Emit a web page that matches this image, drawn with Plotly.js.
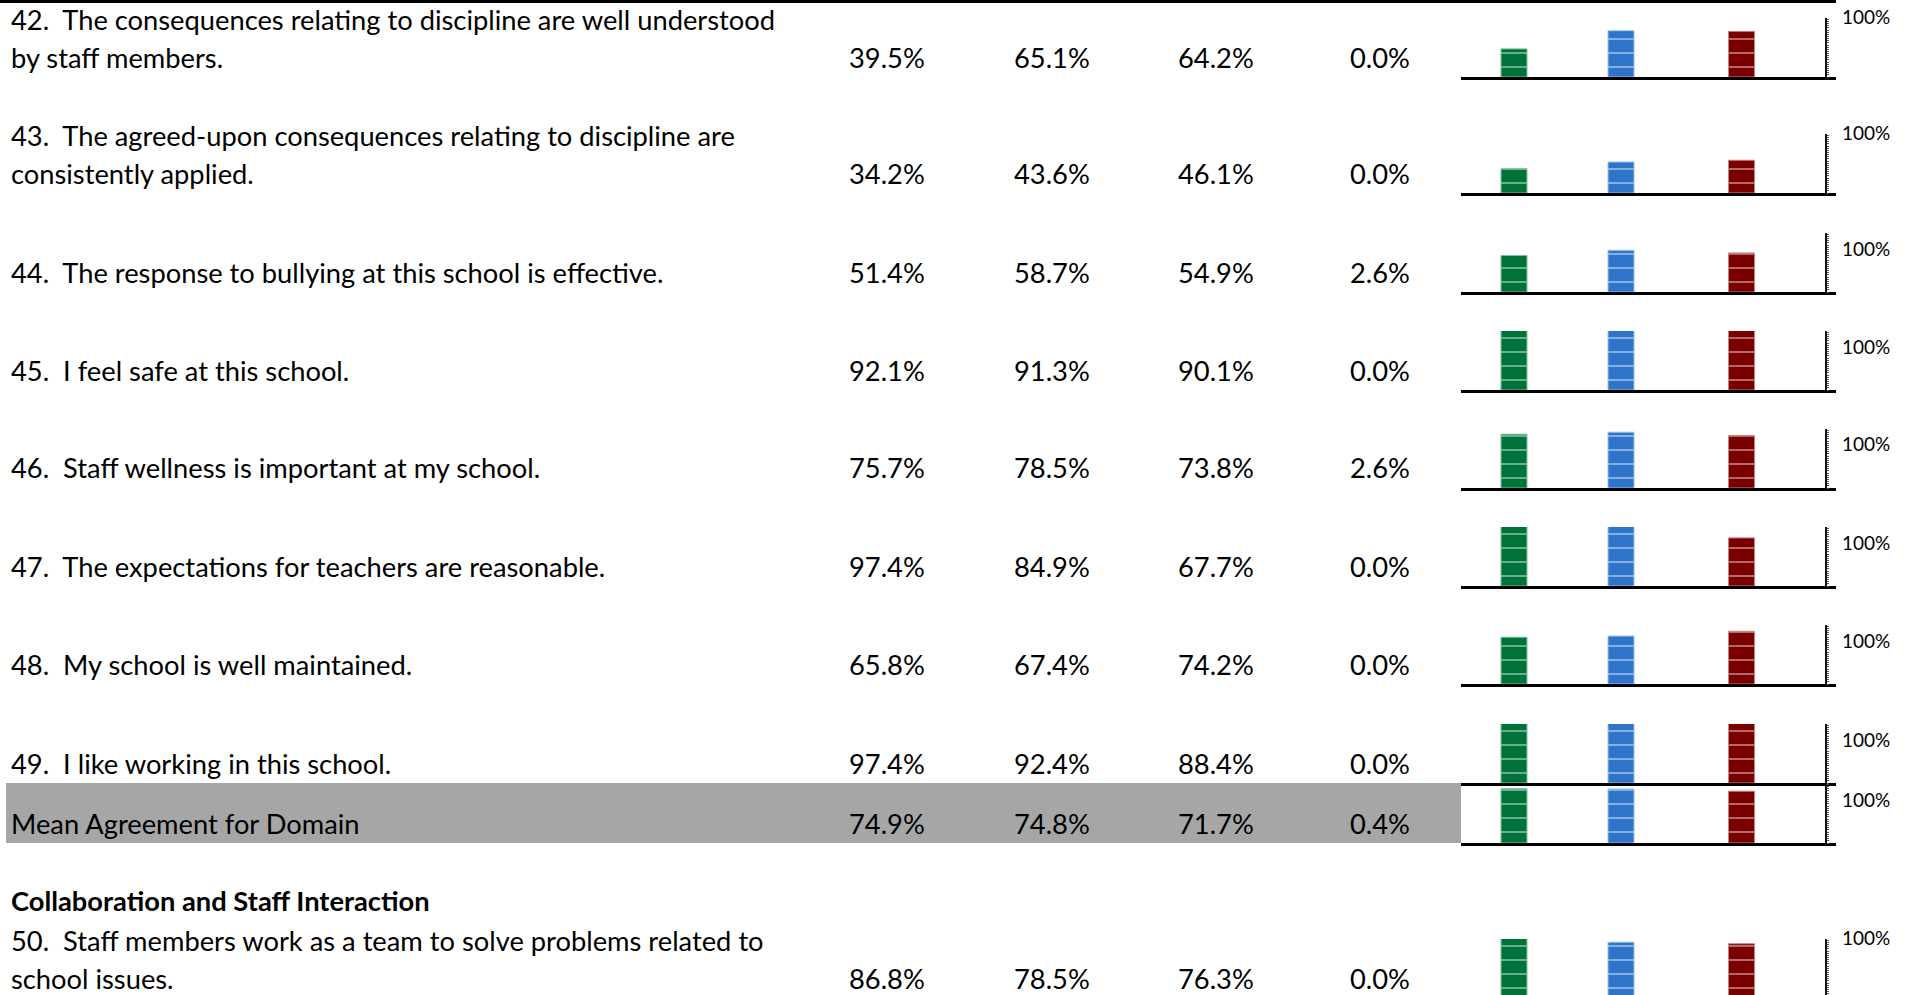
<!DOCTYPE html>
<html><head><meta charset="utf-8">
<script src="https://cdn.plot.ly/plotly-3.0.1.min.js"></script>
<style>html,body{margin:0;padding:0;overflow:hidden;background:#fff}#chart{width:1906px;height:1010px}</style>
</head><body><div id="chart"></div>
<script>
// ---------- data ----------
const questionLines = [
  ["42.  The consequences relating to discipline are well understood", "by staff members."],
  ["43.  The agreed-upon consequences relating to discipline are", "consistently applied."],
  ["44.  The response to bullying at this school is effective."],
  ["45.  I feel safe at this school."],
  ["46.  Staff wellness is important at my school."],
  ["47.  The expectations for teachers are reasonable."],
  ["48.  My school is well maintained."],
  ["49.  I like working in this school."],
  ["Mean Agreement for Domain"],
  ["50.  Staff members work as a team to solve problems related to", "school issues."]
];
const schoolPct   = [39.5, 34.2, 51.4, 92.1, 75.7, 97.4, 65.8, 97.4, 74.9, 86.8];
const districtPct = [65.1, 43.6, 58.7, 91.3, 78.5, 84.9, 67.4, 92.4, 74.8, 78.5];
const statePct    = [64.2, 46.1, 54.9, 90.1, 73.8, 67.7, 74.2, 88.4, 71.7, 76.3];
const otherPct    = [0.0, 0.0, 2.6, 0.0, 2.6, 0.0, 0.0, 0.0, 0.4, 0.0];
const seriesNames = ["School", "District", "State"];
const axisTopLabel = "100%";
const sectionTitle = "Collaboration and Staff Interaction";
const meanRowIndex = 8;

// ---------- layout constants (pixels) ----------
const W = 1906, H = 1010;
const baselines = [77, 193, 292, 390, 488, 586, 684, 783, 843, 998];
const plotH = 59;
const chartLeft = 1461, chartRight = 1836, yAxisX = 1826;
const valueCols = [887, 1051.5, 1215.6, 1379.7];
const textX = 9;
const barColors = ["#00733A", "#2E74C8", "#7A0000"];
const barEdge = ["#7FBF99", "#9CC0EA", "#C98080"];
const FONT = "Lato, 'Liberation Sans', sans-serif";
const FS = 27.3;

const px = x => x / W;
const py = y => 1 - y / H;

// category axis calibration: green centre 1514, red centre 1741.5
const unit = (1741.5 - 1514) / 2;
const xr = [-(1514 - chartLeft) / unit, 2 + (chartRight - 1741.5) / unit];
const bw = 26 / unit;
const blueShift = (1621 - (1514 + unit)) / unit;

const traces = [], annotations = [], shapes = [];
const layout = {
  width: W, height: H, margin: {l: 0, r: 0, t: 0, b: 0},
  paper_bgcolor: "#fff", plot_bgcolor: "rgba(0,0,0,0)",
  showlegend: false, font: {family: FONT, color: "#000"},
  annotations, shapes
};

// grey band for the mean row and the top rule
shapes.push({type: "rect", xref: "paper", yref: "paper", x0: px(6), x1: px(chartLeft),
  y0: py(baselines[meanRowIndex]), y1: py(baselines[meanRowIndex - 1]),
  fillcolor: "#A6A6A6", line: {width: 0}, layer: "below"});
shapes.push({type: "line", xref: "paper", yref: "paper", x0: 0, x1: px(chartRight),
  y0: py(1.5), y1: py(1.5), line: {color: "#000", width: 3}});

questionLines.forEach((lines, i) => {
  const k = i + 1;
  const xa = k === 1 ? "xaxis" : "xaxis" + k;
  const ya = k === 1 ? "yaxis" : "yaxis" + k;
  const b = baselines[i];
  const top = i === meanRowIndex ? baselines[i - 1] : b - plotH;
  const vals = [schoolPct[i], districtPct[i], statePct[i]];

  traces.push({
    type: "bar", x: seriesNames, y: vals.map(v => v / 100),
    xaxis: "x" + (k === 1 ? "" : k), yaxis: "y" + (k === 1 ? "" : k),
    width: bw, offset: [-bw / 2, -bw / 2 + blueShift, -bw / 2],
    marker: {color: barColors, line: {color: barEdge, width: 1},
      pattern: {shape: "-", fillmode: "overlay", fgcolor: "rgba(255,255,255,0.95)", size: 14, solidity: 0.12}},
    hoverinfo: "skip"
  });
  layout[xa] = {domain: [px(chartLeft), px(chartRight)], anchor: "y" + (k === 1 ? "" : k),
    type: "category", range: xr, showline: true, linewidth: 3, linecolor: "#000",
    showticklabels: false, ticks: "", showgrid: false, zeroline: false, fixedrange: true};
  layout[ya] = {domain: [py(b), py(top)], anchor: "free", position: px(yAxisX), side: "right",
    range: [0, 0.83], showline: true, linewidth: 2, linecolor: "#111",
    ticks: "outside", ticklen: 2, tickwidth: 1, tickcolor: "#555", dtick: 0.03,
    showticklabels: false, showgrid: false, zeroline: false, fixedrange: true};

  // question text
  const n = lines.length;
  lines.forEach((t, j) => {
    const yc = b - 20 - (n - 1 - j) * 37.5;
    annotations.push({xref: "paper", yref: "paper", x: px(textX), y: py(yc),
      xanchor: "left", yanchor: "middle", showarrow: false,
      text: t.replace(/  /g, "\u00a0 "), font: {family: FONT, size: FS, color: "#000"}});
  });
  // values
  [schoolPct[i], districtPct[i], statePct[i], otherPct[i]].forEach((v, c) => {
    annotations.push({xref: "paper", yref: "paper", x: px(valueCols[c]), y: py(b - 20),
      xanchor: "center", yanchor: "middle", showarrow: false,
      text: v.toFixed(1) + "%", font: {family: FONT, size: FS, color: "#000"}});
  });
  // 100% label
  annotations.push({xref: "paper", yref: "paper", x: px(1840), y: py(b - (n === 2 ? 61 : 44)),
    xanchor: "left", yanchor: "middle", showarrow: false,
    text: axisTopLabel, font: {family: FONT, size: 19, color: "#000"}});
});

// section header
annotations.push({xref: "paper", yref: "paper", x: px(textX), y: py(900),
  xanchor: "left", yanchor: "middle", showarrow: false,
  text: "<b>" + sectionTitle + "</b>", font: {family: FONT, size: FS, color: "#000"}});

Plotly.newPlot("chart", traces, layout, {staticPlot: true, displayModeBar: false});
</script>
</body></html>
